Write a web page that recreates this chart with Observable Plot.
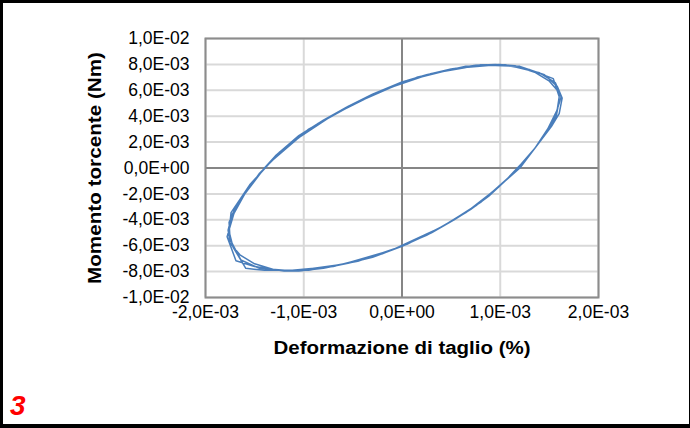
<!DOCTYPE html>
<html><head><meta charset="utf-8">
<script src="https://cdn.jsdelivr.net/npm/d3@7"></script>
<script src="https://cdn.jsdelivr.net/npm/@observablehq/plot@0.6"></script>
<style>
html,body{margin:0;padding:0;background:#fff;}
#wrap{position:relative;width:690px;height:428px;overflow:hidden;background:#fff;}
#border{position:absolute;left:0;top:0;width:690px;height:428px;box-sizing:border-box;border-style:solid;border-color:#000;border-width:3px 1px 4px 3px;pointer-events:none;}
</style></head><body><div id="wrap"><div id="border"></div></div>
<script>
// Shear strain (% , in units of 1E-03) and torque (Nm, in units of 1E-03), several consecutive cycles
const strainE3 = [
  1.60,1.57,1.50,1.40,1.30,1.20,1.05,0.88,0.70,0.53,0.30,0.00,-0.30,-0.55,-0.80,-1.05,-1.30,-1.50,-1.65,-1.75,-1.77,-1.73,-1.62,-1.50,-1.40,-1.28,-1.05,-0.80,-0.55,-0.30,0.00,0.25,0.50,0.75,0.95,1.15,1.35,1.50,1.58,
  1.62,1.55,1.35,1.12,0.80,0.45,0.05,-0.45,-0.95,-1.40,-1.59,-1.72,-1.76,-1.74,-1.55,-1.35,-0.95,-0.45,0.05,0.55,1.00,1.30,1.54,
  1.60,1.58,1.45,1.25,0.98,0.65,0.25,-0.20,-0.70,-1.20,-1.50,-1.69,-1.78,-1.71,-1.60,-1.45,-1.15,-0.70,-0.20,0.30,0.80,1.20,1.45,1.58,
  1.63,1.60,1.52,1.30,1.05,0.75,0.40,-0.10,-0.60,-1.10,-1.45,-1.64,-1.75,-1.76,-1.68,-1.50,-1.25,-0.85,-0.35,0.15,0.65,1.05,1.40,1.56,1.63
];
const torqueE3 = [
  5.2,4.0,3.0,2.0,1.0,0.0,-1.0,-2.2,-3.2,-4.0,-5.0,-6.05,-6.9,-7.35,-7.75,-7.95,-7.85,-7.4,-6.7,-5.8,-4.8,-3.6,-2.2,-1.0,0.0,1.0,2.5,3.7,4.75,5.7,6.65,7.2,7.65,7.93,8.0,7.9,7.4,6.7,6.0,
  5.5,3.8,1.5,-0.5,-2.65,-4.35,-5.9,-7.2,-7.9,-7.9,-7.75,-6.1,-4.9,-3.45,-1.3,0.4,3.0,5.1,6.75,7.7,8.0,7.6,6.9,
  5.5,4.5,2.5,0.5,-1.5,-3.45,-5.2,-6.63,-7.6,-7.95,-7.6,-7.16,-5.3,-3.5,-2.0,-0.4,1.85,4.1,6.0,7.3,7.95,7.85,7.2,6.3,
  5.4,4.2,3.2,1.0,-1.0,-2.92,-4.57,-6.33,-7.43,-7.95,-7.75,-7.1,-5.5,-4.2,-2.8,-0.9,1.2,3.46,5.5,7.0,7.85,7.98,7.35,6.6,5.4
];
const xTicks = [-0.002,-0.001,0,0.001,0.002];
const yTicks = [-0.01,-0.008,-0.006,-0.004,-0.002,0,0.002,0.004,0.006,0.008,0.01];
const xTitle = "Deformazione di taglio (%)";
const yTitle = "Momento torcente (Nm)";
const panelNumber = "3";

const data = strainE3.map((s,i)=>({strain:s*1e-3, torque:torqueE3[i]*1e-3}));

function sci(d){
  const s = d.toExponential(1);
  let [m,e] = s.split("e");
  const sign = e[0]==="-" ? "-" : "+";
  e = e.replace(/^[+-]/,"");
  return m.replace(".",",") + "E" + sign + e.padStart(2,"0");
}

const chart = Plot.plot({
  width:690, height:428,
  marginLeft:205, marginRight:92, marginTop:38, marginBottom:131,
  style:{fontFamily:"'Liberation Sans', Arial, sans-serif", fontSize:"17.5px", color:"#000", background:"transparent"},
  x:{domain:[-0.002,0.002]},
  y:{domain:[-0.01,0.01]},
  marks:[
    Plot.gridX(xTicks,{stroke:"#d9d9d9", strokeOpacity:1, strokeWidth:2}),
    Plot.gridY(yTicks,{stroke:"#d9d9d9", strokeOpacity:1, strokeWidth:2}),
    Plot.ruleX([0],{stroke:"#868686", strokeWidth:2}),
    Plot.ruleY([0],{stroke:"#868686", strokeWidth:2}),
    Plot.frame({stroke:"#8c8c8c", strokeWidth:2}),
    Plot.line(data,{x:"strain", y:"torque", stroke:"#4a7ebb", strokeWidth:1.5, curve:"linear"}),
    Plot.axisX(xTicks,{tickSize:0, tickPadding:8, tickFormat:sci, label:xTitle, labelAnchor:"center", labelOffset:56, labelArrow:"none"}),
    Plot.axisY(yTicks,{tickSize:0, tickPadding:16, tickFormat:sci, label:yTitle, labelAnchor:"center", labelOffset:117, labelArrow:"none"})
  ]
});
document.getElementById("wrap").insertBefore(chart, document.getElementById("border"));
chart.style.position = "absolute"; chart.style.left = "0"; chart.style.top = "0";

const svg = d3.select(chart);
svg.selectAll('g[aria-label="x-axis label"] text')
  .attr("font-weight","bold").attr("font-size","18px")
  .attr("textLength",257).attr("lengthAdjust","spacingAndGlyphs");
svg.selectAll('g[aria-label="y-axis label"] text')
  .attr("font-weight","bold").attr("font-size","18px")
  .attr("textLength",232).attr("lengthAdjust","spacingAndGlyphs");
svg.append("text").text(panelNumber)
  .attr("x",10).attr("y",415).attr("text-anchor","start")
  .attr("fill","#ff0000").attr("font-size","28px").attr("font-weight","bold").attr("font-style","italic")
  .attr("font-family","'Liberation Sans', Arial, sans-serif");
</script>
</body></html>
